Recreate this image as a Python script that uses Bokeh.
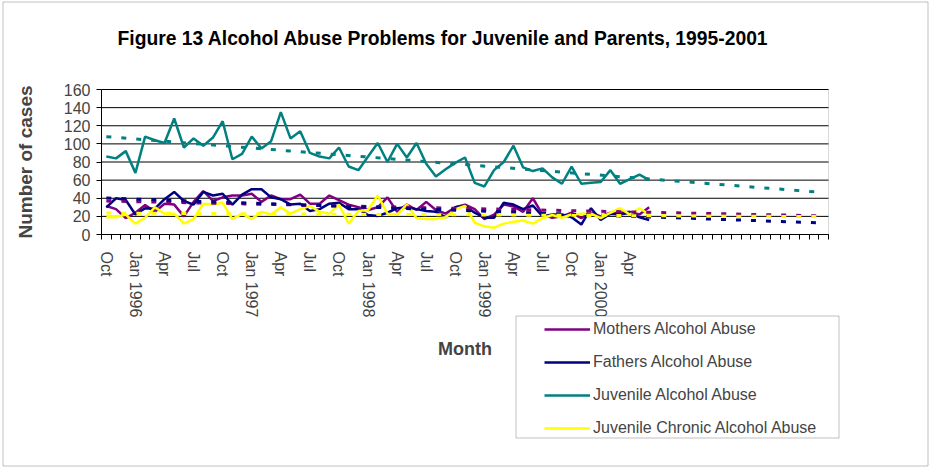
import numpy as np
import pandas as pd
from bokeh.plotting import figure
from bokeh.models import (Range1d, FixedTicker, LinearAxis, Legend, LegendItem,
                          BoxAnnotation, Label)
from bokeh.embed import file_html
from bokeh.resources import INLINE

FONT = "Liberation Sans"

# ---------------- data ----------------
# 75 monthly categories: Oct 1995 .. Dec 2001 (data recorded to Jun 2000)
categories = list(pd.date_range("1995-10-01", periods=75, freq="MS").strftime("%b %Y"))

mothers = [31.5, 28, 18, 24, 32.5, 25, 34, 33, 20, 36, 48, 37, 41, 43, 43, 45, 36, 43, 39,
           39, 44, 34, 34, 43, 38, 33, 30, 27, 30, 41, 25, 33, 27, 36, 27, 23, 30, 33,
           28, 17, 22, 33, 31, 25, 40, 22, 18.5, 20, 24, 18, 24, 20, 24, 24, 25, 22, 30]
fathers = [30, 40, 38, 22, 29, 28.5, 39, 47, 37, 33, 47, 43, 45, 33, 44, 50, 50, 41, 39,
           33, 34, 26, 28, 34, 35, 28, 28, 21.5, 20.5, 24, 29, 30, 28, 26, 25, 19, 30, 31.5,
           24, 18.5, 18.5, 35, 33, 28, 32, 20, 22, 22, 19, 11, 29, 16, 23, 22, 24, 19, 16]
juvenile = [86, 84, 92, 68, 108, 104, 101, 128, 96, 106,
            98, 107, 125, 83, 89, 108, 95, 103, 135, 106,
            114, 90, 86, 84, 96, 75, 71, 86, 101, 80,
            100, 85, 101, 78, 64, 72, 79, 85, 57, 53,
            71, 80, 98, 74, 70, 73, 63, 56, 75, 56,
            57, 58, 71, 56, 61, 66, 60]
chronic = [19, 19, 22, 12, 18.5, 30, 23, 23, 12, 17, 34, 33, 35, 17, 23, 17, 25, 22, 30,
           23, 28, 31.5, 25, 23, 33, 12, 26, 27, 43, 23, 22, 33, 18, 17, 17, 19, 28, 31.5,
           13, 9, 7.5, 12, 14, 15.5, 12, 18, 21.5, 18.5, 22, 23, 23, 18, 24, 29, 22, 29, 22]

series_names = ["Mothers Alcohol Abuse", "Fathers Alcohol Abuse",
                "Juvenile Alcohol Abuse", "Juvenile Chronic Alcohol Abuse"]
series_values = [mothers, fathers, juvenile, chronic]
series_colors = ["#800080", "#000080", "#008080", "#FFFF00"]

tick_labels = ["Oct", "Jan 1996", "Apr", "Jul", "Oct", "Jan 1997", "Apr", "Jul",
               "Oct", "Jan 1998", "Apr", "Jul", "Oct", "Jan 1999", "Apr", "Jul",
               "Oct", "Jan 2000", "Apr"]
y_ticks = [0, 20, 40, 60, 80, 100, 120, 140, 160]

title_text = "Figure 13 Alcohol Abuse Problems for Juvenile and Parents, 1995-2001"

n_cat = len(categories)
tick_pos = list(range(0, 3 * len(tick_labels), 3))
boundaries = [k - 0.5 for k in range(n_cat + 1)]

# ---------------- layout (pixels) ----------------
W, H = 931, 469
PLOT_L, PLOT_T, PLOT_W, PLOT_H = 101, 89, 727, 145   # category/value area in pixels
px_cat = PLOT_W / n_cat
px_val = PLOT_H / y_ticks[-1]
x_start = boundaries[0] - PLOT_L / px_cat
x_end = x_start + W / px_cat
y_top = y_ticks[-1] + PLOT_T / px_val
y_bot = y_top - H / px_val

p = figure(width=W, height=H, output_backend="svg", toolbar_location=None,
           x_range=Range1d(x_start, x_end), y_range=Range1d(y_bot, y_top),
           x_axis_type=None, y_axis_type=None,
           min_border_left=0, min_border_right=0, min_border_top=0, min_border_bottom=0)
p.title.visible = False
p.background_fill_color = "white"
p.border_fill_color = "white"
p.outline_line_alpha = 0

# outer chart border
p.add_layout(BoxAnnotation(left=2.5, right=W - 3.5, top=1.5, bottom=H - 3.5,
                           left_units="canvas", right_units="canvas",
                           top_units="canvas", bottom_units="canvas",
                           fill_alpha=0, line_color="#333333", line_width=1,
                           level="underlay"))

# title
p.add_layout(Label(x=117, y=38, x_units="canvas", y_units="canvas", text=title_text,
                   text_font=FONT, text_font_style="bold", text_font_size="19.3px",
                   text_baseline="middle", text_align="left", text_color="black"))

# y axis at the left edge of the category area
ya = LinearAxis(fixed_location=boundaries[0], bounds=(y_ticks[0], y_ticks[-1]),
                ticker=FixedTicker(ticks=y_ticks),
                axis_label="Number of cases", axis_label_text_font=FONT,
                axis_label_text_font_style="bold", axis_label_text_font_size="19px",
                axis_label_standoff=25,
                major_label_text_font=FONT, major_label_text_font_size="16px",
                major_label_standoff=6,
                major_tick_out=5, major_tick_in=0, minor_tick_out=0, minor_tick_in=0,
                axis_line_color="black", major_tick_line_color="black")
p.add_layout(ya, "left")

# horizontal gridlines across the category area only
p.segment(x0=[boundaries[0]] * len(y_ticks), x1=[boundaries[-1]] * len(y_ticks),
          y0=y_ticks, y1=y_ticks, line_color="black", line_width=1)
# plot-area border (grey)
p.add_layout(BoxAnnotation(left=boundaries[0], right=boundaries[-1],
                           bottom=y_ticks[0], top=y_ticks[-1],
                           fill_alpha=0, line_color="#808080", line_width=1,
                           level="underlay"))

# x axis at value 0: labels at category centres, minor ticks at boundaries
xa = LinearAxis(fixed_location=0, bounds=(boundaries[0], boundaries[-1]),
                ticker=FixedTicker(ticks=tick_pos, minor_ticks=boundaries),
                major_label_overrides={t: lab for t, lab in zip(tick_pos, tick_labels)},
                major_label_orientation="vertical",
                major_label_text_font=FONT, major_label_text_font_size="16px",
                major_label_standoff=12,
                major_tick_out=0, major_tick_in=0, minor_tick_out=5, minor_tick_in=0,
                axis_line_color="black", minor_tick_line_color="black",
                axis_label="Month", axis_label_text_font=FONT,
                axis_label_text_font_style="bold", axis_label_text_font_size="18px",
                axis_label_standoff=19)
p.add_layout(xa, "below")

# ---------------- series ----------------
items = []
for name, vals, col in zip(series_names, series_values, series_colors):
    xs = list(range(len(vals)))
    r = p.line(xs, vals, line_color=col, line_width=2.5)
    items.append(LegendItem(label=name, renderers=[r]))

# linear trend lines (least squares), extended to the last category
for vals, col in zip(series_values, series_colors):
    xs = np.arange(len(vals))
    m, b = np.polyfit(xs, np.array(vals, dtype=float), 1)
    tx = np.array([0, n_cat - 1])
    p.line(tx, m * tx + b, line_color=col, line_width=3, line_dash="5 10")

# ---------------- legend ----------------
legend_box = BoxAnnotation(left=515.5, right=838.5, top=315.5, bottom=437.5,
                           left_units="canvas", right_units="canvas",
                           top_units="canvas", bottom_units="canvas",
                           fill_color="white", fill_alpha=1,
                           line_color="#333333", line_width=1)
p.add_layout(legend_box)

legend = Legend(items=items, location=(540, H - 441), padding=4, spacing=15,
                glyph_width=46, glyph_height=16, label_height=16, label_standoff=3,
                label_text_font=FONT, label_text_font_size="16px",
                border_line_alpha=0, background_fill_alpha=0, margin=0)
p.add_layout(legend, "center")

open("out.html", "w").write(file_html(p, INLINE))
